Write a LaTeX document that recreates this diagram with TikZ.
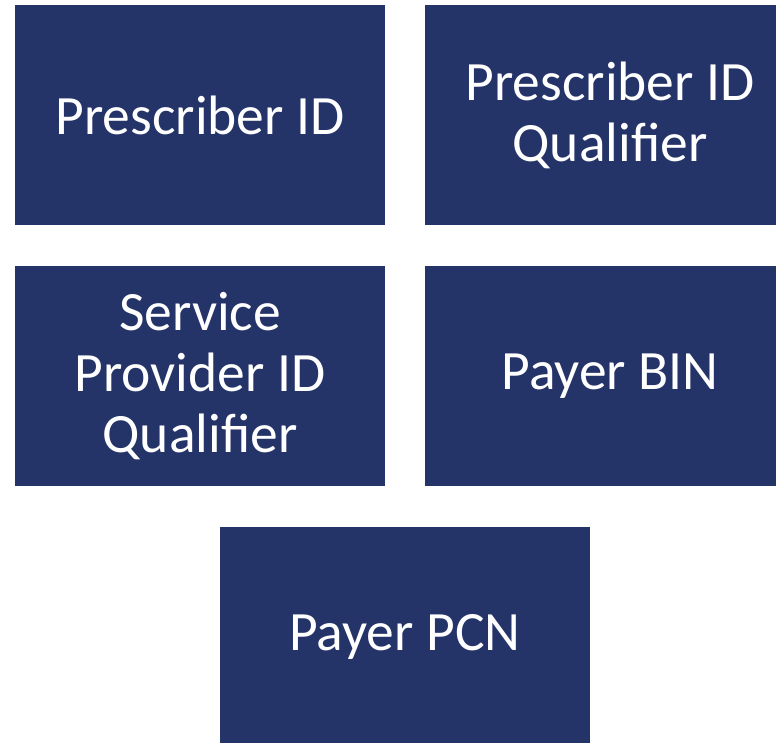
\documentclass[tikz,border=0pt]{standalone}
\usepackage{fontspec}
\setmainfont{Carlito}
\definecolor{navy}{RGB}{36,52,104}
\begin{document}
\begin{tikzpicture}[x=1pt,y=1pt,
  field/.style={draw=none, fill=navy, text=white, align=center,
    minimum width=370pt, minimum height=220pt, inner sep=0pt,
    font=\fontsize{55.5}{61}\selectfont}]
  \clip (0,0) rectangle (776,-742);
  \fill[white] (0,0) rectangle (776,-742);
  \node[field] (presid)  at (200,-115) {Prescriber ID};
  \node[field] (presq)   at (610,-115) {Prescriber ID\\Qualifier};
  \node[field] (spq)     at (200,-376) {Service\\Provider ID\\Qualifier};
  \node[field] (bin)     at (610,-376) {Payer BIN};
  \node[field] (pcn)     at (405,-637) {Payer PCN};
\end{tikzpicture}
\end{document}
